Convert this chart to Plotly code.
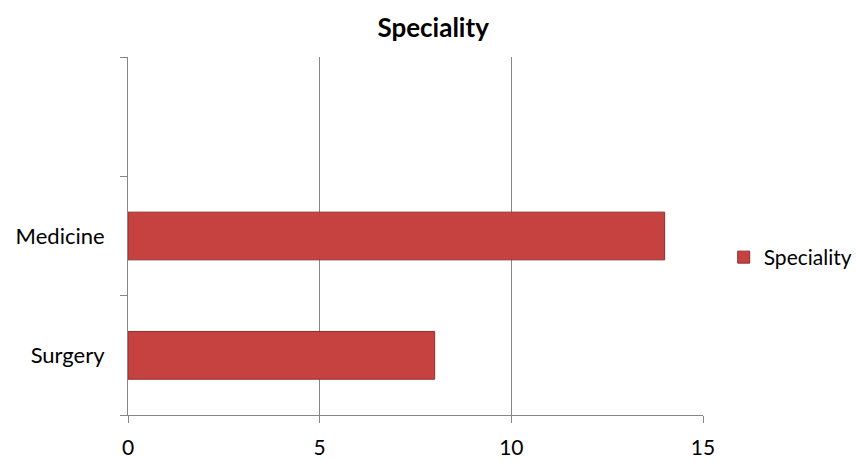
import plotly.graph_objects as go

categories = ["Surgery", "Medicine", " "]
values = [8, 14, None]
series_name = "Speciality"
x_ticks = [0, 5, 10, 15]

fig = go.Figure()
fig.add_trace(go.Bar(
    y=categories, x=values, orientation="h", name=series_name,
    marker=dict(color="#C64240", line=dict(color="#8E2F2D", width=1)),
    showlegend=True,
))

font_family = "Lato, 'Open Sans', sans-serif"
fig.update_layout(
    width=856, height=462,
    margin=dict(l=128, r=153, t=57, b=47, autoexpand=False),
    paper_bgcolor="white", plot_bgcolor="white",
    font=dict(family=font_family, size=21, color="black"),
    title=dict(text="<b>Speciality</b>", x=0.506, xanchor="center", y=0.94, yanchor="middle",
               xref="container", font=dict(size=26, family=font_family)),
    bargap=0.6,
    showlegend=True,
    legend=dict(x=1.036, xanchor="left", y=0.44, yanchor="middle",
                font=dict(size=21), itemwidth=30),
    xaxis=dict(range=[0, 15], tickvals=x_ticks, showgrid=True, gridcolor="#868686", gridwidth=1,
               showline=True, linecolor="#868686", ticks="outside", ticklen=7, tickcolor="#868686",
               zeroline=False, tickfont=dict(size=21), ticklabelstandoff=7),
    yaxis=dict(type="category", categoryorder="array", categoryarray=categories,
               range=[-0.5, 2.5], showline=True, linecolor="#868686", ticks="outside",
               tickson="boundaries", ticklen=7, tickcolor="#868686", showgrid=False,
               ticklabelstandoff=18, tickfont=dict(size=22)),
)
fig.write_html("out.html")
